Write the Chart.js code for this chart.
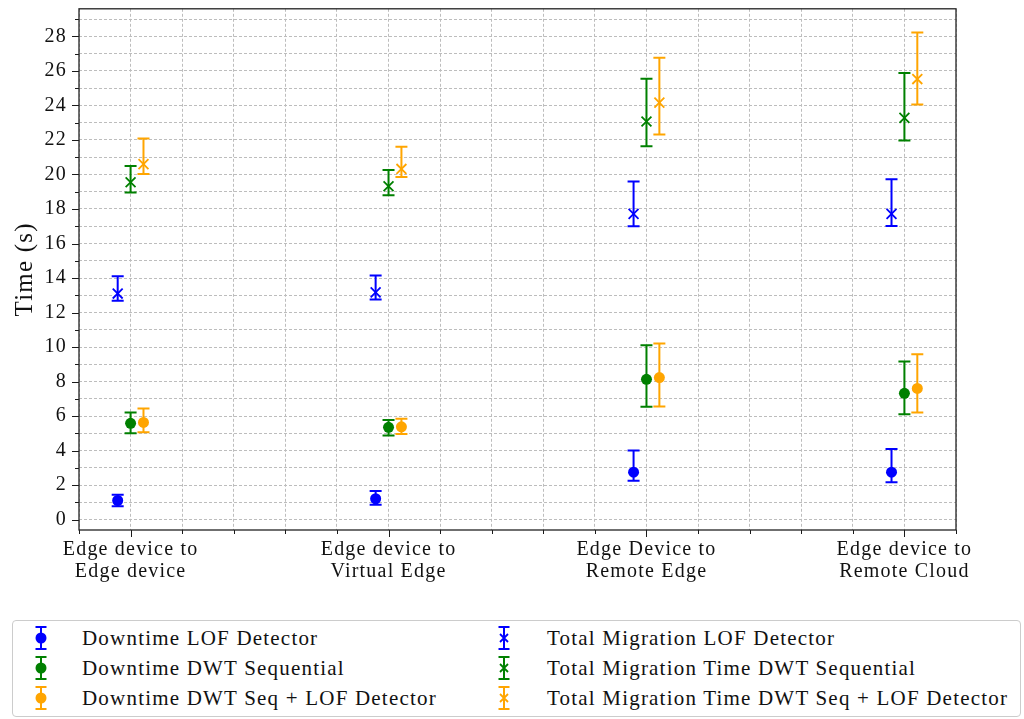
<!DOCTYPE html>
<html>
<head>
<meta charset="utf-8">
<script src="https://cdn.jsdelivr.net/npm/chart.js@4.4.1/dist/chart.umd.min.js"></script>
<style>
html,body{margin:0;padding:0;background:#fff;}
#wrap{position:relative;width:1024px;height:719px;overflow:hidden;}
#c{position:absolute;left:0;top:0;}
#legend{position:absolute;left:12px;top:620px;width:1009px;height:97px;border:1px solid #cccccc;border-radius:4px;box-sizing:border-box;background:#fff;font-family:"Liberation Serif",serif;font-size:21px;color:#111;letter-spacing:1.2px;}
.icon{position:absolute;width:20px;height:30px;}
.txt{position:absolute;height:30px;line-height:30px;white-space:nowrap;}
</style>
</head>
<body>
<div id="wrap">
<canvas id="c" width="1024" height="719"></canvas>
<div id="legend"></div>
</div>
<script>
// ---- data ----
const categories = [
  ['Edge device to', 'Edge device'],
  ['Edge device to', 'Virtual Edge'],
  ['Edge Device to', 'Remote Edge'],
  ['Edge device to', 'Remote Cloud']
];
const yTickLabels = [0, 2, 4, 6, 8, 10, 12, 14, 16, 18, 20, 22, 24, 26, 28];

const downtimeLOF      = [1.11, 1.21, 2.75, 2.75];
const downtimeLOFLow   = [0.77, 0.87, 2.25, 2.17];
const downtimeLOFHigh  = [1.44, 1.66, 4.00, 4.09];

const downtimeSeq      = [5.58, 5.35, 8.13, 7.32];
const downtimeSeqLow   = [5.00, 4.88, 6.54, 6.10];
const downtimeSeqHigh  = [6.21, 5.78, 10.11, 9.17];

const downtimeSeqLOF     = [5.63, 5.38, 8.23, 7.60];
const downtimeSeqLOFLow  = [5.07, 4.96, 6.56, 6.21];
const downtimeSeqLOFHigh = [6.44, 5.84, 10.21, 9.59];

const totalLOF      = [13.10, 13.17, 17.72, 17.72];
const totalLOFLow   = [12.69, 12.76, 17.00, 17.01];
const totalLOFHigh  = [14.11, 14.15, 19.59, 19.72];

const totalSeq      = [19.55, 19.32, 23.07, 23.28];
const totalSeqLow   = [18.95, 18.80, 21.64, 21.97];
const totalSeqHigh  = [20.49, 20.26, 25.55, 25.88];

const totalSeqLOF     = [20.60, 20.32, 24.16, 25.53];
const totalSeqLOFLow  = [20.03, 19.86, 22.32, 24.05];
const totalSeqLOFHigh = [22.09, 21.60, 26.76, 28.22];

// ---- styling ----
const BLUE = '#0000ff', GREEN = '#008000', ORANGE = '#ffa500';
const FONT = '"Liberation Serif", "Times New Roman", serif';
const offsets = [-0.05, 0, 0.05];

function mk(label, vals, lo, hi, color, idx, kind) {
  return {
    label,
    data: vals.map((v, i) => ({x: i + offsets[idx], y: v})),
    errLow: lo, errHigh: hi,
    kind,
    borderColor: color,
    backgroundColor: color,
    pointStyle: kind === 'dot' ? 'circle' : 'crossRot',
    pointRadius: kind === 'dot' ? 5.5 : 7,
    borderWidth: kind === 'dot' ? 0 : 1.8,
    showLine: false
  };
}

const datasets = [
  mk('Downtime LOF Detector', downtimeLOF, downtimeLOFLow, downtimeLOFHigh, BLUE, 0, 'dot'),
  mk('Downtime DWT Sequential', downtimeSeq, downtimeSeqLow, downtimeSeqHigh, GREEN, 1, 'dot'),
  mk('Downtime DWT Seq + LOF Detector', downtimeSeqLOF, downtimeSeqLOFLow, downtimeSeqLOFHigh, ORANGE, 2, 'dot'),
  mk('Total Migration LOF Detector', totalLOF, totalLOFLow, totalLOFHigh, BLUE, 0, 'x'),
  mk('Total Migration Time DWT Sequential', totalSeq, totalSeqLow, totalSeqHigh, GREEN, 1, 'x'),
  mk('Total Migration Time DWT Seq + LOF Detector', totalSeqLOF, totalSeqLOFLow, totalSeqLOFHigh, ORANGE, 2, 'x')
];

const errorBars = {
  id: 'errorBars',
  beforeDatasetsDraw(chart) {
    const {ctx, scales: {x, y}} = chart;
    ctx.save();
    chart.data.datasets.forEach((ds) => {
      ctx.strokeStyle = ds.borderColor;
      ctx.lineWidth = 2;
      ds.data.forEach((p, i) => {
        const px = x.getPixelForValue(p.x);
        const yl = y.getPixelForValue(ds.errLow[i]);
        const yh = y.getPixelForValue(ds.errHigh[i]);
        ctx.beginPath();
        ctx.moveTo(px, yl); ctx.lineTo(px, yh);
        ctx.moveTo(px - 6, yl); ctx.lineTo(px + 6, yl);
        ctx.moveTo(px - 6, yh); ctx.lineTo(px + 6, yh);
        ctx.stroke();
      });
    });
    ctx.restore();
  }
};

const frameTicks = {
  id: 'frameTicks',
  beforeLayout(chart) { chart.ctx.letterSpacing = '1.2px'; },
  beforeDraw(chart) { chart.ctx.letterSpacing = '1.2px'; },
  afterDraw(chart) {
    const {ctx, chartArea: a, scales: {x, y}} = chart;
    ctx.save();
    ctx.strokeStyle = '#1a1a1a';
    ctx.lineWidth = 1;
    y.ticks.forEach(t => {
      const py = Math.round(y.getPixelForValue(t.value)) + 0.5;
      const major = yTickLabels.some(v => Math.abs(v - t.value) < 1e-6);
      const len = major ? 7 : 4;
      ctx.beginPath(); ctx.moveTo(a.left - len, py); ctx.lineTo(a.left, py); ctx.stroke();
    });
    x.ticks.forEach(t => {
      const px = Math.round(x.getPixelForValue(t.value)) + 0.5;
      const major = Math.abs(t.value - Math.round(t.value)) < 1e-6;
      const len = major ? 7 : 4;
      ctx.beginPath(); ctx.moveTo(px, a.bottom); ctx.lineTo(px, a.bottom + len); ctx.stroke();
    });
    ctx.lineWidth = 1.3;
    ctx.strokeStyle = '#222';
    ctx.strokeRect(a.left, a.top, a.right - a.left, a.bottom - a.top);
    ctx.restore();
  }
};

new Chart(document.getElementById('c'), {
  type: 'scatter',
  data: {datasets},
  plugins: [errorBars, frameTicks],
  options: {
    responsive: false,
    devicePixelRatio: 1,
    animation: false,
    events: [],
    layout: {padding: {left: 0, right: 68, top: 6, bottom: 119}},
    plugins: {legend: {display: false}, tooltip: {enabled: false}},
    scales: {
      x: {
        type: 'linear', min: -0.2, max: 3.2,
        afterFit(s) { s.height = 70; s.paddingLeft = 0; s.paddingRight = 0; },
        ticks: {
          stepSize: 0.2, autoSkip: false, maxRotation: 0, minRotation: 0, padding: 9,
          color: '#111', font: {family: FONT, size: 20, lineHeight: 1.1},
          callback(v) {
            const r = Math.round(v);
            return (Math.abs(v - r) < 1e-6 && r >= 0 && r < categories.length) ? categories[r] : '';
          }
        },
        grid: {color: '#bdbdbd', lineWidth: 1, drawTicks: false},
        border: {display: false, dash: [3, 2]}
      },
      y: {
        type: 'linear', min: -0.6, max: 29.6,
        afterFit(s) { s.width = 79; s.paddingTop = 0; s.paddingBottom = 0; },
        ticks: {
          stepSize: 1, autoSkip: false, includeBounds: false, padding: 12,
          color: '#111', font: {family: FONT, size: 20},
          callback(v) {
            return yTickLabels.some(t => Math.abs(t - v) < 1e-6) ? String(Math.round(v)) : '';
          }
        },
        grid: {color: '#bdbdbd', lineWidth: 1, drawTicks: false},
        border: {display: false, dash: [3, 2]},
        title: {display: true, text: 'Time (s)', color: '#111', font: {family: FONT, size: 25}, padding: {top: 10, bottom: 0}}
      }
    }
  }
});

// ---- legend (matplotlib style, 2 columns) ----
const legend = document.getElementById('legend');
const cols = [{icon: 28, text: 69}, {icon: 491, text: 534}];
const rows = [17, 47, 77];
datasets.forEach((ds, i) => {
  const col = cols[Math.floor(i / 3)], rowC = rows[i % 3];
  const c = ds.borderColor;
  const marker = ds.kind === 'dot'
    ? `<circle cx="10" cy="15" r="5.5" fill="${c}"/>`
    : `<path d="M6 11 L14 19 M14 11 L6 19" stroke="${c}" stroke-width="1.8"/>`;
  const svg = `<svg class="icon" style="left:${col.icon - 10}px;top:${rowC - 15}px" viewBox="0 0 20 30">
    <path d="M10 4 V26 M4.5 4 H15.5 M4.5 26 H15.5" stroke="${c}" stroke-width="2" fill="none"/>${marker}</svg>`;
  legend.insertAdjacentHTML('beforeend', svg);
  const t = document.createElement('div');
  t.className = 'txt';
  t.style.left = col.text + 'px';
  t.style.top = (rowC - 15) + 'px';
  t.textContent = ds.label;
  legend.appendChild(t);
});
</script>
</body>
</html>
